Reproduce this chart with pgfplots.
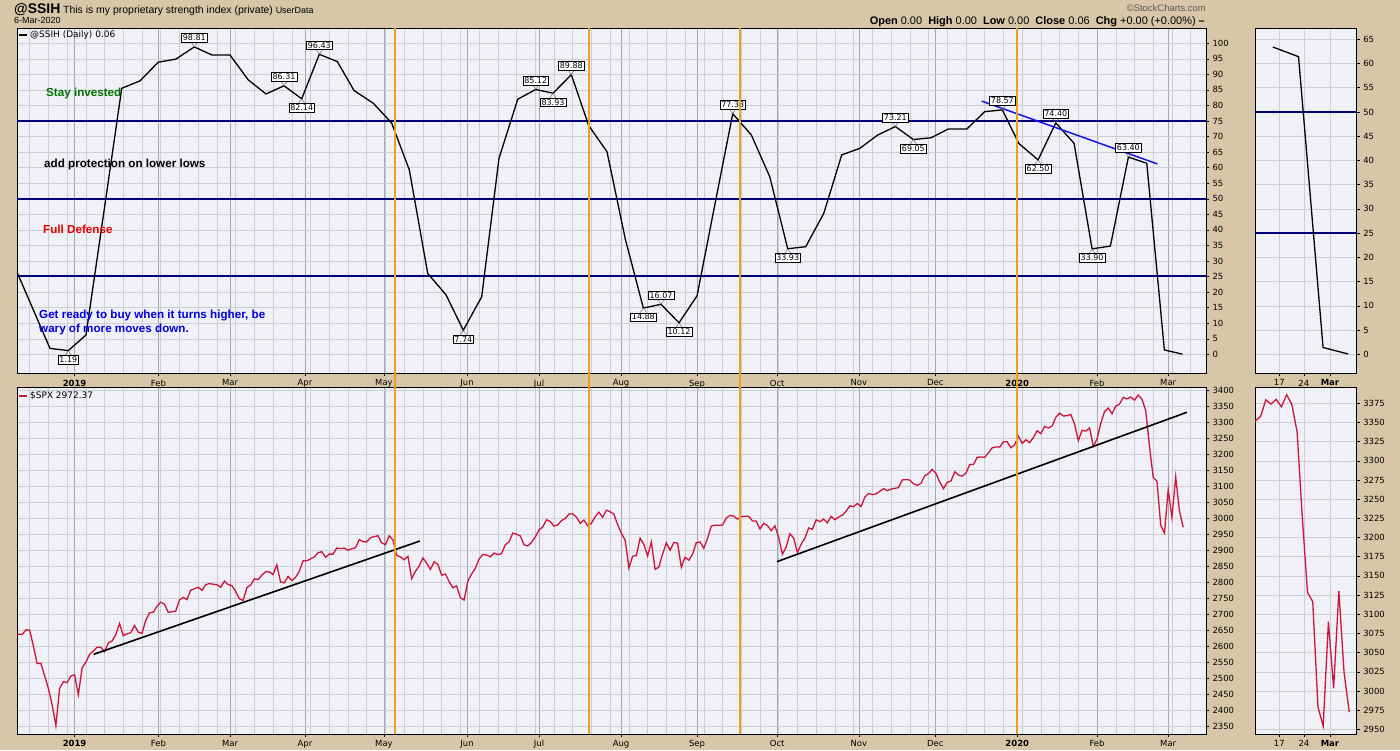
\documentclass[border=0pt]{standalone}
\usepackage{fontspec}
\setmainfont{Liberation Sans}
\newfontfamily\dv{DejaVu Sans}
\usepackage{pgfplots}
\usepackage{pgfplotstable}
\pgfplotsset{compat=1.18}
\definecolor{tanbg}{RGB}{215,199,168}
\definecolor{panelbg}{RGB}{240,241,246}
\definecolor{gridminor}{RGB}{205,205,212}
\definecolor{gridmajor}{RGB}{165,165,172}
\definecolor{navyline}{RGB}{0,0,120}
\definecolor{orangeline}{RGB}{240,160,30}
\definecolor{spxred}{RGB}{205,20,60}
\definecolor{trendblue}{RGB}{20,20,230}
\definecolor{txtgreen}{RGB}{0,112,0}
\definecolor{txtred}{RGB}{230,0,0}
\definecolor{txtblue}{RGB}{0,0,225}

\pgfplotstableread{
i v
-16 2633.08
-15 2637.72
-14 2636.78
-13 2651.07
-12 2650.54
-11 2599.95
-10 2545.94
-9 2546.16
-8 2506.96
-7 2467.42
-6 2416.62
-5 2351.10
-4 2467.70
-3 2488.83
-2 2485.74
-1 2506.85
0 2510.03
1 2447.89
2 2531.94
3 2549.69
4 2574.41
5 2584.96
6 2596.64
7 2596.26
8 2582.61
9 2610.30
10 2616.10
11 2635.96
12 2670.71
13 2632.90
14 2638.70
15 2642.33
16 2664.76
17 2643.85
18 2640.00
19 2681.05
20 2704.10
21 2706.53
22 2724.87
23 2737.70
24 2731.61
25 2706.05
26 2707.88
27 2709.80
28 2744.73
29 2753.03
30 2745.73
31 2775.60
32 2779.76
33 2784.70
34 2774.88
35 2792.67
36 2796.11
37 2793.90
38 2792.38
39 2784.49
40 2803.69
41 2792.81
42 2789.65
43 2771.45
44 2748.93
45 2743.07
46 2783.30
47 2791.52
48 2810.92
49 2808.48
50 2822.48
51 2832.94
52 2832.57
53 2824.23
54 2854.88
55 2800.71
56 2798.36
57 2818.46
58 2805.37
59 2815.44
60 2834.40
61 2867.19
62 2867.24
63 2873.40
64 2879.39
65 2892.74
66 2895.77
67 2878.20
68 2888.21
69 2888.32
70 2907.41
71 2905.58
72 2907.06
73 2900.45
74 2905.03
75 2907.97
76 2933.68
77 2927.25
78 2926.17
79 2939.88
80 2943.03
81 2945.83
82 2923.73
83 2917.52
84 2945.64
85 2932.47
86 2884.05
87 2879.42
88 2870.72
89 2881.40
90 2811.87
91 2834.41
92 2850.96
93 2876.32
94 2859.53
95 2840.23
96 2864.36
97 2856.27
98 2822.24
99 2826.06
100 2802.39
101 2783.02
102 2788.86
103 2752.06
104 2744.45
105 2803.27
106 2826.15
107 2843.49
108 2873.34
109 2886.73
110 2885.72
111 2879.84
112 2891.64
113 2886.98
114 2889.67
115 2917.75
116 2926.46
117 2954.18
118 2950.46
119 2945.35
120 2917.38
121 2913.78
122 2924.92
123 2941.76
124 2964.33
125 2973.01
126 2995.82
127 2990.41
128 2975.95
129 2979.63
130 2993.07
131 2999.91
132 3013.77
133 3014.30
134 3004.04
135 2984.42
136 2995.11
137 2976.61
138 2985.03
139 3005.47
140 3019.56
141 3003.67
142 3025.86
143 3020.97
144 3013.18
145 2980.38
146 2953.56
147 2932.05
148 2844.74
149 2881.77
150 2883.98
151 2938.09
152 2918.65
153 2882.70
154 2926.32
155 2840.60
156 2847.60
157 2888.68
158 2923.65
159 2900.51
160 2924.43
161 2922.95
162 2847.11
163 2878.38
164 2869.16
165 2887.94
166 2924.58
167 2926.46
168 2906.27
169 2937.78
170 2976.00
171 2978.71
172 2978.43
173 2979.39
174 3000.93
175 3009.57
176 3007.39
177 2997.96
178 3005.70
179 3006.73
180 3006.79
181 2992.07
182 2991.78
183 2966.60
184 2984.87
185 2977.62
186 2961.79
187 2976.74
188 2940.25
189 2887.61
190 2910.63
191 2952.01
192 2938.79
193 2893.06
194 2919.40
195 2938.13
196 2970.27
197 2966.15
198 2995.68
199 2989.69
200 2997.95
201 2986.20
202 3006.72
203 2995.99
204 3004.52
205 3010.29
206 3022.55
207 3039.42
208 3036.89
209 3046.77
210 3037.56
211 3066.91
212 3078.27
213 3074.62
214 3076.78
215 3085.18
216 3093.08
217 3087.01
218 3091.84
219 3094.04
220 3096.63
221 3120.46
222 3122.03
223 3120.18
224 3108.46
225 3103.54
226 3110.29
227 3133.64
228 3140.52
229 3153.63
230 3140.98
231 3113.87
232 3093.20
233 3112.76
234 3117.43
235 3145.91
236 3135.96
237 3132.52
238 3141.63
239 3168.57
240 3168.80
241 3191.45
242 3192.52
243 3191.14
244 3205.37
245 3221.22
246 3224.01
247 3223.38
248 3239.91
249 3240.02
250 3221.29
251 3230.78
252 3257.85
253 3234.85
254 3246.28
255 3237.18
256 3253.05
257 3274.70
258 3265.35
259 3288.13
260 3283.15
261 3289.29
262 3316.81
263 3329.62
264 3320.79
265 3321.75
266 3325.54
267 3295.47
268 3243.63
269 3276.24
270 3273.40
271 3283.66
272 3225.52
273 3248.92
274 3297.59
275 3334.69
276 3345.78
277 3327.71
278 3352.09
279 3357.75
280 3379.45
281 3373.94
282 3380.16
283 3370.29
284 3386.15
285 3373.23
286 3337.75
287 3225.89
288 3128.21
289 3116.39
290 2978.76
291 2954.22
292 3090.23
293 3003.37
294 3130.12
295 3023.94
296 2972.37
}\spx

\pgfplotstableread{
i v
-16.2 28.7
-6.57 1.9
-1.68 1.19
3.04 6.2
7.85 46
12.58 85.5
17.46 87.9
22.35 93.9
27.08 94.9
31.96 98.81
36.69 96.2
41.5 96.2
46.38 88.2
51.11 83.7
55.91 86.31
60.64 82.14
65.34 96.43
70.15 94.1
74.6 84.8
79.76 80.7
84.67 74.3
89.37 59.3
94.29 26.0
99.17 19.1
103.79 7.74
108.7 18.5
113.32 63
118.32 82
123.12 85.12
127.74 83.93
132.63 89.88
137.28 73.5
142.16 65.1
147.05 37
151.86 14.88
156.59 16.07
161.39 10.12
166.2 18.8
171 48.4
175.73 77.33
180.7 70.5
185.61 57.1
190.41 33.93
195.22 34.6
200.03 45.3
204.83 64.1
209.64 66.2
214.45 70.5
219.15 73.21
223.96 69.05
228.68 69.6
233.22 72.4
238.21 72.4
243.02 78
247.72 78.57
252.1 67.8
257.26 62.50
261.98 74.40
266.87 67.8
271.68 33.90
276.57 34.8
281.37 63.40
286.28 61.4
290.98 1.4
295.79 0.06
}\ssih

\tikzset{
  labbox/.style={draw=black, line width=0.5bp, fill=white, inner xsep=1.5bp, inner ysep=1.3bp,
    font=\dv\fontsize{8}{9}\selectfont},
}
\pgfplotsset{
  panel/.style={
    scale only axis,
    anchor=south west,
    clip mode=individual,
    axis background/.style={fill=panelbg},
    axis line style={black,line width=0.7bp},
    tick style={black,line width=0.5bp},
    major tick length=3bp,
    minor tick length=0pt,
    tick align=outside,
    xtick pos=bottom, ytick pos=right,
    yticklabel pos=right,
    xmajorgrids, xminorgrids, ymajorgrids,
    major x grid style={gridmajor,line width=0.6bp},
    minor x grid style={gridminor,line width=0.5bp},
    major y grid style={gridminor,line width=0.5bp},
    ticklabel style={font=\dv\fontsize{8.5}{10}\selectfont, text=black},
    /pgf/number format/1000 sep={},
    /pgf/number format/assume math mode=true,
  },
  mainx/.style={xmin=-15.38, xmax=302.1,
    xtick={0,22.4,41.5,61.5,82.6,104.8,124,145.9,166.2,187.6,209.4,229.8,251.7,273,292},
    xticklabels={\textbf{2019},Feb,Mar,Apr,May,Jun,Jul,Aug,Sep,Oct,Nov,Dec,\textbf{2020},Feb,Mar},
    minor xtick={-12,-7,...,302}},
  sidex/.style={xmin=278, xmax=297.43,
    xtick={282.6,287.3,292.3}, xticklabels={17,24,\textbf{Mar}},
    xminorgrids=false, major x grid style={gridminor,line width=0.5bp}},
}
\newcommand\labU[3]{%
  \draw[black!60,line width=0.4bp] (axis cs:#1,#2) -- ++(-3bp,4.5bp) (axis cs:#1,#2) -- ++(3bp,4.5bp);
  \node[labbox,anchor=south,yshift=4.5bp] at (axis cs:#1,#2) {#3};}
\newcommand\labD[3]{%
  \draw[black!60,line width=0.4bp] (axis cs:#1,#2) -- ++(-3bp,-4.5bp) (axis cs:#1,#2) -- ++(3bp,-4.5bp);
  \node[labbox,anchor=north,yshift=-4.5bp] at (axis cs:#1,#2) {#3};}

\begin{document}
\begin{tikzpicture}[x=1bp,y=1bp]
\fill[tanbg] (0,0) rectangle (1400,750);
\useasboundingbox (0,0) rectangle (1400,750);

% header
\node[anchor=base west, inner sep=0] at (14,736)
  {{\bfseries\fontsize{14}{15}\selectfont @SSIH} {\fontsize{10.5}{12}\selectfont This is my proprietary strength index (private)} {\fontsize{9}{10}\selectfont UserData}};
\node[anchor=base west, inner sep=0] at (14,726) {\fontsize{9}{10}\selectfont 6-Mar-2020};
\node[anchor=base east, inner sep=0, text=black!65] at (1206,738) {\fontsize{9.5}{10}\selectfont \textcopyright StockCharts.com};
\node[anchor=base east, inner sep=0] at (1205,725) {\fontsize{11}{12}\selectfont \textbf{Open} 0.00\ \ \textbf{High} 0.00\ \ \textbf{Low} 0.00\ \ \textbf{Close} 0.06\ \ \textbf{Chg} +0.00 (+0.00\%) \textbf{--}};

% top-left: SSIH
\begin{axis}[panel, mainx, at={(17bp,376.7bp)}, width=1189bp, height=345bp,
  ymin=-6.1, ymax=104.8, ytick={0,5,...,100}]
\addplot[navyline, line width=1.8bp] coordinates {(-20,75) (310,75)};
\addplot[navyline, line width=1.8bp] coordinates {(-20,50) (310,50)};
\addplot[navyline, line width=1.8bp] coordinates {(-20,25.1) (310,25.1)};
\addplot[black, line width=1.3bp] table[x=i,y=v] {\ssih};
\addplot[trendblue, line width=1.5bp] coordinates {(242.2,81.4) (289.1,61.2)};
\labD{-1.68}{1.19}{1.19}
\labU{31.96}{98.81}{98.81}
\labU{55.91}{86.31}{86.31}
\labD{60.64}{82.14}{82.14}
\labU{65.34}{96.43}{96.43}
\labD{103.79}{7.74}{7.74}
\labU{123.12}{85.12}{85.12}
\labD{127.74}{83.93}{83.93}
\labU{132.63}{89.88}{89.88}
\labD{151.86}{14.88}{14.88}
\labU{156.59}{16.07}{16.07}
\labD{161.39}{10.12}{10.12}
\labU{175.73}{77.33}{77.33}
\labD{190.41}{33.93}{33.93}
\labU{219.15}{73.21}{73.21}
\labD{223.96}{69.05}{69.05}
\labU{247.72}{78.57}{78.57}
\labD{257.26}{62.50}{62.50}
\labU{261.98}{74.40}{74.40}
\labD{271.68}{33.90}{33.90}
\labU{281.37}{63.40}{63.40}
\end{axis}

% top-right: SSIH zoom
\begin{axis}[panel, sidex, at={(1255.3bp,376.7bp)}, width=101.4bp, height=345bp,
  ymin=-3.92, ymax=67.27, ytick={0,5,...,65}]
\addplot[navyline, line width=1.8bp] coordinates {(270,50) (300,50)};
\addplot[navyline, line width=1.8bp] coordinates {(270,25) (300,25)};
\addplot[black, line width=1.3bp] coordinates {(281.37,63.40) (286.28,61.4) (290.98,1.4) (295.79,0.06)};
\end{axis}

% bottom-left: SPX
\begin{axis}[panel, mainx, at={(17bp,16bp)}, width=1189bp, height=346.3bp,
  ymin=2325, ymax=3409.4, ytick={2350,2400,...,3400}]
\addplot[spxred, line width=1.3bp] table[x=i,y=v] {\spx};
\addplot[black, line width=1.6bp] coordinates {(5.1,2574.5) (92.2,2929.3)};
\addplot[black, line width=1.6bp] coordinates {(187.5,2864.5) (297,3332.4)};
\end{axis}

% bottom-right: SPX zoom
\begin{axis}[panel, sidex, at={(1255.3bp,16bp)}, width=101.4bp, height=346.3bp,
  ymin=2943.9, ymax=3395.3, ytick={2950,2975,...,3375}]
\addplot[spxred, line width=1.3bp] table[x=i,y=v] {\spx};
\end{axis}

% orange vertical markers
\foreach \xx in {395,589,740,1017} {
  \draw[orangeline, line width=1.6bp] (\xx,721.7) -- (\xx,16);
}

% legends
\draw[black, line width=2.5bp] (19,715) -- (27,715);
\node[anchor=west, inner sep=0] at (30,715) {\dv\fontsize{9}{10}\selectfont @SSIH (Daily) 0.06};
\draw[spxred, line width=2.5bp] (19,354) -- (27,354);
\node[anchor=west, inner sep=0] at (30,354) {\dv\fontsize{9}{10}\selectfont \$SPX 2972.37};

% zone texts
\node[anchor=west, inner sep=0, text=txtgreen] at (46,657) {\bfseries\fontsize{11.7}{13}\selectfont Stay invested};
\node[anchor=west, inner sep=0, text=black] at (44,586) {\bfseries\fontsize{11.7}{13}\selectfont add protection on lower lows};
\node[anchor=west, inner sep=0, text=txtred] at (43,521) {\bfseries\fontsize{11.7}{13}\selectfont Full Defense};
\node[anchor=west, inner sep=0, text=txtblue] at (39,434) {\bfseries\fontsize{11.7}{13}\selectfont Get ready to buy when it turns higher, be};
\node[anchor=west, inner sep=0, text=txtblue] at (39,421) {\bfseries\fontsize{11.7}{13}\selectfont wary of more moves down.};
\end{tikzpicture}
\end{document}
